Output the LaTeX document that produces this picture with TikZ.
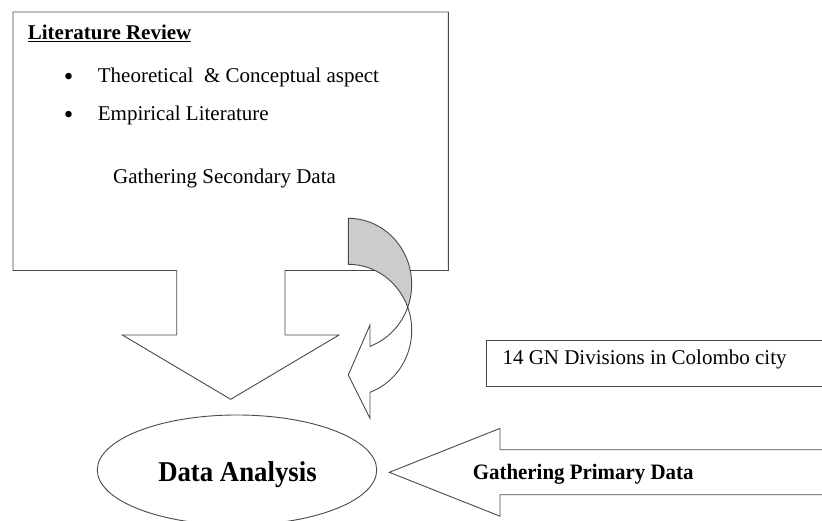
\documentclass[tikz,border=0pt]{standalone}
\usepackage{fontspec}
\setmainfont{Liberation Serif}
\usetikzlibrary{shapes.geometric}
\definecolor{edge}{HTML}{4A4A4A}
\definecolor{backshade}{HTML}{CCCCCC}
\begin{document}
\begin{tikzpicture}[x=1pt,y=1pt,
  shape line/.style={draw=edge, line width=0.9pt, line join=miter},
  body text/.style={inner sep=0pt, anchor=base west, font=\fontsize{21}{25}\selectfont},
  bullet mark/.style={inner sep=0pt, anchor=base west, font=\fontsize{27}{30}\selectfont},
  bold text/.style={inner sep=0pt, font=\bfseries\fontsize{22}{26}\selectfont}]
\useasboundingbox (0,0) rectangle (822,521);
\clip (0,0) rectangle (822,521);

% literature review panel with its downward block arrow
\path[shape line, fill=white]
  (13,509) -- (448.3,509) -- (448.3,250.5) -- (285,250.5) -- (285,186)
  -- (339,186) -- (230.7,121.7) -- (122.3,186) -- (176.7,186)
  -- (176.7,250.5) -- (13,250.5) -- cycle;

\node[body text, font=\bfseries\fontsize{21}{25}\selectfont] (title) at (27.7,481) {\underline{Literature Review}};
\node[bullet mark] (dot1) at (63.7,435.7) {•};
\node[body text] (item1) at (97.7,438.3) {Theoretical\ \ \& Conceptual aspect};
\node[bullet mark] (dot2) at (63.7,397.7) {•};
\node[body text] (item2) at (97.7,400.3) {Empirical Literature};
\node[body text] (secondary) at (113,337.7) {Gathering Secondary Data};

% curved arrow: shaded back part
\path[shape line, fill=backshade]
  (348.3,302.7) arc[start angle=90, end angle=-20.4, x radius=63.4, y radius=66]
  arc[start angle=20.4, end angle=90, x radius=63.4, y radius=66] -- cycle;
% curved arrow: front part with head
\path[shape line, fill=white]
  (407.7,213.7) arc[start angle=-20.4, end angle=-70, x radius=63.4, y radius=66]
  -- (370,196) -- (348.3,146) -- (370,102.7) -- (370,128.7)
  arc[start angle=-70, end angle=20.4, x radius=63.4, y radius=66] -- cycle;

% data analysis
\node[ellipse, shape line, fill=white, minimum width=279.4pt, minimum height=110pt, inner sep=0pt] (analysis) at (237,51) {};
\node[inner sep=0pt, anchor=base, xscale=0.933, font=\bfseries\fontsize{28.7}{34}\selectfont] (analysislabel) at (237.5,39.3) {Data Analysis};

% primary data block arrow
\path[shape line, fill=white]
  (840,71.2) -- (500,71.2) -- (500,92.6) -- (389.3,48.7) -- (500,4.8)
  -- (500,26.2) -- (840,26.2) -- cycle;
\node[bold text, anchor=base west, xscale=0.95] (primary) at (472.7,41) {Gathering Primary Data};

% study area box
\path[shape line, fill=white]
  (840,180.3) -- (486.7,180.3) -- (486.7,134.3) -- (840,134.3) -- cycle;
\node[body text] (area) at (502.3,156.7) {14 GN Divisions in Colombo city};
\end{tikzpicture}
\end{document}
